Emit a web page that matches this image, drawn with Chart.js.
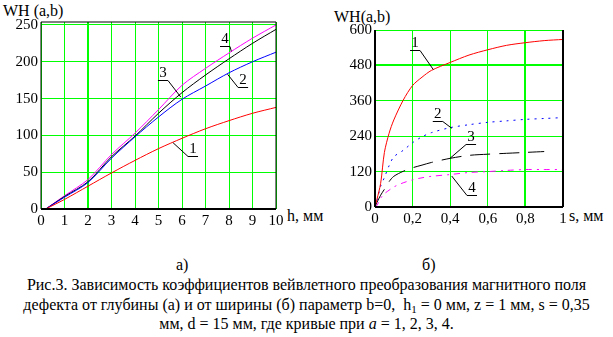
<!DOCTYPE html>
<html>
<head>
<meta charset="utf-8">
<script src="https://cdn.jsdelivr.net/npm/chart.js@4/dist/chart.umd.min.js"></script>
<style>
  body { margin: 0; background: #fff; width: 613px; height: 337px; position: relative; overflow: hidden;
         font-family: "Liberation Serif", "Times New Roman", "DejaVu Serif", serif; font-size: 16px; color: #000; }
  .abs { position: absolute; white-space: nowrap; line-height: 18px; }
  #caption { position: absolute; left: 0; top: 275px; width: 613px; text-align: center; line-height: 19.5px; }
  sub { font-size: 11px; vertical-align: -3px; line-height: 0; }
</style>
</head>
<body>
<div class="abs" style="left:3px;top:2px">WH (a,b)</div>
<div class="abs" style="left:287px;top:207px">h, мм</div>
<div class="abs" style="left:334px;top:8px">WH(a,b)</div>
<div class="abs" style="left:569px;top:207px">s, мм</div>
<div class="abs" style="left:176px;top:256px">а)</div>
<div class="abs" style="left:422px;top:256px">б)</div>
<div id="caption">Рис.3. Зависимость коэффициентов вейвлетного преобразования магнитного поля<br>дефекта от глубины (а) и от ширины (б) параметр b=0,&nbsp; h<sub>1</sub> = 0 мм, z = 1 мм, s = 0,35<br>мм, d = 15 мм, где кривые при <i>a</i> = 1, 2, 3, 4.</div>

<canvas id="chartA" width="330" height="235" style="position:absolute;left:0;top:0"></canvas>
<canvas id="chartB" width="303" height="235" style="position:absolute;left:310px;top:0"></canvas>

<script>
// --- chart (a): WH vs depth h ---
const hVals = [0.2, 1, 2, 3, 4, 5, 6, 7, 8, 9, 10];
const whA1 = [0, 13, 31, 49, 66, 82, 96, 109, 120, 130, 138];
const whA2 = [0, 16, 36, 69, 98, 125, 149, 167, 185, 200, 213];
const whA3 = [0, 17, 37, 71, 99, 130, 158, 182, 204, 225, 244];
const whA4 = [0, 18, 40, 74, 103, 135, 168, 191, 212, 232, 250];
const hTicks = [0, 1, 2, 3, 4, 5, 6, 7, 8, 9, 10];
const whATicks = [0, 50, 100, 150, 200, 250];

// --- chart (b): WH vs width s ---
const sVals = [0, 0.01, 0.03, 0.05, 0.075, 0.1, 0.15, 0.2, 0.25, 0.3, 0.4, 0.5, 0.6, 0.7, 0.8, 0.9, 1.0];
const whB1 = [0, 25, 80, 185, 250, 295, 362, 412, 440, 463, 490, 515, 533, 548, 557, 564, 568];
const whB2 = [0, 20, 70, 100, 140, 170, 192, 218, 238, 252, 269, 279, 287, 292, 297, 300, 303];
const whB3 = [0, 15, 40, 60, 86, 104, 121, 133, 142, 151, 165, 175, 179, 182, 185, 188, null];
const whB4 = [0, 5, 30, 45, 57, 68, 82, 92, 99, 104, 110, 117, 120, 124, 127, 127, 127];
const sTicks = [0, 0.2, 0.4, 0.6, 0.8, 1];
const whBTicks = [0, 120, 240, 360, 480, 600];

// curve number labels: text position and the curve point the leader goes to
const labelsA = [
    { text: '4', tx: 7.83, ty: 231, px: 8.1, py: 214, side: 'right' },
    { text: '3', tx: 5.19, ty: 185, px: 5.95, py: 152, side: 'right' },
    { text: '2', tx: 8.6, ty: 175, px: 7.94, py: 183, side: 'left' },
    { text: '1', tx: 6.47, ty: 81, px: 5.62, py: 90, side: 'left' }
];
const labelsB = [
    { text: '1', tx: 0.213, ty: 557, px: 0.31, py: 466, side: 'right' },
    { text: '2', tx: 0.334, ty: 316, px: 0.408, py: 267, side: 'right' },
    { text: '3', tx: 0.511, ty: 238, px: 0.399, py: 165, side: 'left' },
    { text: '4', tx: 0.516, ty: 65, px: 0.408, py: 105, side: 'left' }
];

const SERIF = '"Liberation Serif", "Times New Roman", "DejaVu Serif", serif';
const FONT = { family: SERIF, size: 15 };
const GREEN = '#00ff00';

function pts(xs, ys) {
    return xs.map((x, i) => ({ x: x, y: ys[i] }));
}

function line(data, color, dash) {
    return {
        data: data,
        borderColor: color,
        borderWidth: 1,
        borderDash: dash || [],
        pointRadius: 0,
        fill: false,
        tension: 0.3,
        spanGaps: false
    };
}

// leader labels like the Mathcad figure
const curveLabels = {
    id: 'curveLabels',
    afterDatasetsDraw(chart, args, opts) {
        const ctx = chart.ctx;
        const x = chart.scales.x, y = chart.scales.y;
        ctx.save();
        ctx.font = '15px ' + SERIF;
        ctx.fillStyle = '#000';
        ctx.strokeStyle = '#000';
        ctx.lineWidth = 1;
        ctx.textAlign = 'center';
        ctx.textBaseline = 'middle';
        opts.items.forEach(l => {
            const tx = x.getPixelForValue(l.tx), ty = y.getPixelForValue(l.ty);
            const px = x.getPixelForValue(l.px), py = y.getPixelForValue(l.py);
            ctx.fillText(l.text, tx, ty);
            const uy = Math.round(ty + 7) + 0.5;
            const sx = l.side === 'left' ? tx - 5 : tx + 5;
            ctx.beginPath();
            ctx.moveTo(tx - 5, uy);
            ctx.lineTo(tx + 5, uy);
            ctx.moveTo(sx, uy);
            ctx.lineTo(px, py);
            ctx.stroke();
        });
        ctx.restore();
    }
};

// black frame round the plot area
const frame = {
    id: 'frame',
    afterDatasetsDraw(chart, args, opts) {
        const ctx = chart.ctx;
        const a = chart.chartArea;
        ctx.save();
        ctx.strokeStyle = '#000';
        opts.sides.forEach(s => {
            ctx.lineWidth = s.w;
            ctx.beginPath();
            if (s.side === 'top') { ctx.moveTo(a.left, a.top); ctx.lineTo(a.right, a.top); }
            if (s.side === 'bottom') { ctx.moveTo(a.left, a.bottom); ctx.lineTo(a.right, a.bottom); }
            if (s.side === 'left') { ctx.moveTo(a.left, a.top); ctx.lineTo(a.left, a.bottom); }
            if (s.side === 'right') { ctx.moveTo(a.right, a.top); ctx.lineTo(a.right, a.bottom); }
            ctx.stroke();
        });
        ctx.restore();
    }
};

function axes(xMin, xMax, xTicks, xFmt, yMax, yTicks, yWidth, thickX, thickY) {
    return {
        x: {
            type: 'linear', min: xMin, max: xMax,
            afterBuildTicks: s => { s.ticks = xTicks.map(v => ({ value: v })); },
            afterFit: s => { s.height = 22; },
            grid: { color: GREEN, drawTicks: false, lineWidth: c => (c.tick && c.tick.value === thickX ? 2 : 1) },
            border: { display: false },
            ticks: { font: FONT, color: '#000', padding: 3, maxRotation: 0, autoSkip: false, callback: xFmt }
        },
        y: {
            type: 'linear', min: 0, max: yMax,
            afterBuildTicks: s => { s.ticks = yTicks.map(v => ({ value: v })); },
            afterFit: s => { s.width = yWidth; },
            grid: { color: GREEN, drawTicks: false, lineWidth: c => (c.tick && c.tick.value === thickY ? 2 : 1) },
            border: { display: false },
            ticks: { font: FONT, color: '#000', padding: 3, autoSkip: false }
        }
    };
}

new Chart(document.getElementById('chartA'), {
    type: 'line',
    data: {
        datasets: [
            line(pts(hVals, whA1), '#ff0000'),
            line(pts(hVals, whA2), '#0000ff'),
            line(pts(hVals, whA3), '#000000'),
            line(pts(hVals, whA4), '#ff00ff')
        ]
    },
    options: {
        responsive: false,
        animation: false,
        layout: { padding: { left: 0, top: 22, right: 54, bottom: 4 } },
        plugins: {
            legend: { display: false },
            tooltip: { enabled: false },
            curveLabels: { items: labelsA },
            frame: { sides: [{ side: 'top', w: 1 }, { side: 'left', w: 1 }, { side: 'right', w: 1 }, { side: 'bottom', w: 2 }] }
        },
        scales: axes(0, 10, hTicks, v => String(v), 254, whATicks, 41, 2, null)
    },
    plugins: [curveLabels, frame]
});

new Chart(document.getElementById('chartB'), {
    type: 'line',
    data: {
        datasets: [
            line(pts(sVals, whB1), '#ff0000'),
            line(pts(sVals, whB2), '#0000ff', [2, 5]),
            line(pts(sVals, whB3), '#000000', [20, 9]),
            line(pts(sVals, whB4), '#ff00ff', [6, 5, 2, 5])
        ]
    },
    options: {
        responsive: false,
        animation: false,
        layout: { padding: { left: 0, top: 30, right: 50, bottom: 6 } },
        plugins: {
            legend: { display: false },
            tooltip: { enabled: false },
            curveLabels: { items: labelsB },
            frame: { sides: [{ side: 'left', w: 2 }, { side: 'right', w: 2 }, { side: 'bottom', w: 2 }] }
        },
        scales: axes(0, 1, sTicks, v => (v === 0 || v === 1 ? String(v) : v.toFixed(1).replace('.', ',')), 600, whBTicks, 65, 0.8, 480)
    },
    plugins: [curveLabels, frame]
});
</script>
</body>
</html>
